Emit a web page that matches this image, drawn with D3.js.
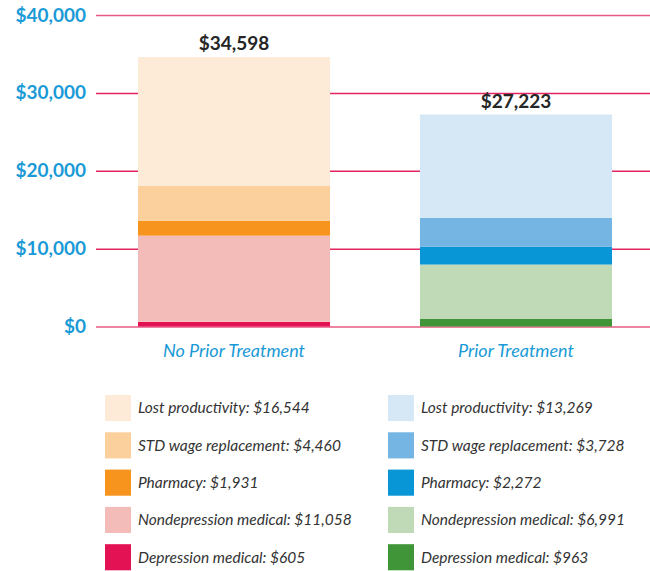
<!DOCTYPE html>
<html lang="en">
<head>
  <meta charset="UTF-8">
  <title>Depression cost by prior treatment</title>
  <script src="https://d3js.org/d3.v7.min.js"></script>
  <style>
    body { margin: 0; background: #fff; }
    text { font-family: Lato, "Open Sans", sans-serif; }
  </style>
</head>
<body>
<svg width="650" height="571"></svg>
<script>
  // groups (x axis)
  var groups = ['No Prior Treatment', 'Prior Treatment'];
  // stack layers, bottom to top
  var layers = ['Depression medical', 'Nondepression medical', 'Pharmacy', 'STD wage replacement', 'Lost productivity'];
  var noPrior = [605, 11058, 1931, 4460, 16544];
  var prior = [963, 6991, 2272, 3728, 13269];
  var totals = [34598, 27223];
  var noPriorColors = ['#e31254', '#f4bcb8', '#f7941d', '#fcd09d', '#fdebd7'];
  var priorColors = ['#3f9537', '#c0d9b6', '#0896d7', '#75b5e3', '#d6e8f6'];
  var yTicks = [0, 10000, 20000, 30000, 40000];

  var svg = d3.select('svg');
  var fmt = d3.format('$,');

  var y = d3.scaleLinear()
    .domain([0, 40000])
    .range([326.5, 15]);

  var x = d3.scaleBand()
    .domain(groups)
    .range([138, 612])
    .paddingInner(0.319)
    .paddingOuter(0);

  // grid + y labels
  var yAxis = svg.append('g')
    .attr('transform', 'translate(96,0)')
    .call(d3.axisLeft(y).tickValues(yTicks).tickSize(-554).tickFormat(fmt));
  yAxis.select('.domain').remove();
  yAxis.selectAll('.tick line')
    .attr('stroke', function (d) { return d === 40000 || d === 0 ? '#e65a85' : '#e2245f'; })
    .attr('stroke-width', 1.5);
  yAxis.selectAll('.tick text')
    .attr('x', -10)
    .attr('fill', '#1a9ad6')
    .attr('font-size', 19)
    .attr('font-weight', 'bold')
    .attr('font-family', 'Lato, sans-serif');

  // stacked bars
  var series = [noPrior, prior];
  var palettes = [noPriorColors, priorColors];
  var bars = svg.append('g');
  groups.forEach(function (g, gi) {
    var base = 0;
    series[gi].forEach(function (v, li) {
      bars.append('rect')
        .attr('x', x(g))
        .attr('width', x.bandwidth())
        .attr('y', y(base + v))
        .attr('height', y(base) - y(base + v))
        .attr('fill', palettes[gi][li]);
      base += v;
    });
    svg.append('text')
      .attr('x', x(g) + x.bandwidth() / 2)
      .attr('y', y(totals[gi]) - 7)
      .attr('text-anchor', 'middle')
      .attr('font-size', 19)
      .attr('font-weight', 'bold')
      .attr('fill', '#262626')
      .text(fmt(totals[gi]));
  });

  // x axis labels
  var xAxis = svg.append('g')
    .attr('transform', 'translate(0,326.5)')
    .call(d3.axisBottom(x).tickSize(0));
  xAxis.select('.domain').remove();
  xAxis.selectAll('.tick text')
    .attr('dy', 0)
    .attr('y', 30)
    .attr('fill', '#1a9ad6')
    .attr('font-size', 18)
    .attr('font-style', 'italic')
    .attr('font-family', 'Lato, sans-serif');

  // legend, top row = top layer
  var rowY = d3.scaleBand()
    .domain(layers.slice().reverse())
    .range([395, 570.3])
    .paddingInner(0.3)
    .paddingOuter(0);
  var colX = [105, 388];
  groups.forEach(function (g, gi) {
    layers.forEach(function (name, li) {
      var lg = svg.append('g')
        .attr('transform', 'translate(' + colX[gi] + ',' + rowY(name) + ')');
      lg.append('rect')
        .attr('width', 26)
        .attr('height', rowY.bandwidth())
        .attr('fill', palettes[gi][li]);
      lg.append('text')
        .attr('x', 33)
        .attr('y', rowY.bandwidth() / 2)
        .attr('dy', '0.35em')
        .attr('font-size', 15.5)
        .attr('font-style', 'italic')
        .attr('fill', '#333')
        .text(name + ': ' + fmt(series[gi][li]));
    });
  });
</script>
</body>
</html>
